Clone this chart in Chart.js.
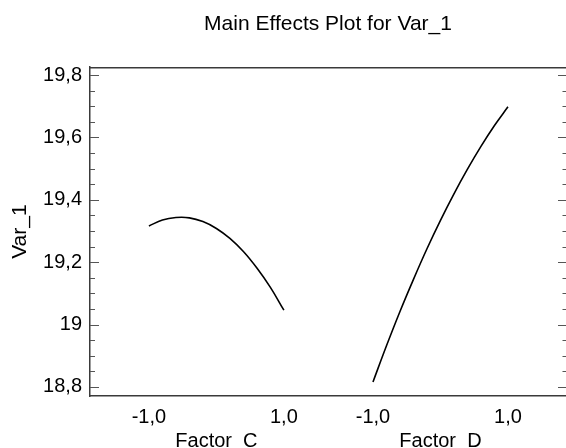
<!DOCTYPE html>
<html>
<head>
<meta charset="utf-8">
<script src="https://cdn.jsdelivr.net/npm/chart.js@4/dist/chart.umd.min.js"></script>
<style>
  html, body { margin: 0; padding: 0; background: #ffffff; }
  #wrap { width: 566px; height: 448px; }
</style>
</head>
<body>
<div id="wrap"><canvas id="c" width="566" height="448"></canvas></div>
<script>
// ---- data ----
const chartTitle = 'Main Effects Plot for Var_1';
const yTitle = 'Var_1';
const factorNames = ['Factor  C', 'Factor  D'];
const levels = [-1, -0.8, -0.6, -0.4, -0.2, 0, 0.2, 0.4, 0.6, 0.8, 1];
const factorC = [19.316, 19.335, 19.343, 19.342, 19.330, 19.308, 19.276, 19.234, 19.181, 19.119, 19.046];
const factorD = [18.816, 18.932, 19.042, 19.145, 19.243, 19.334, 19.419, 19.498, 19.571, 19.638, 19.698];
const levelTickValues = [-1, 1];
const levelTickLabels = ['-1,0', '1,0'];
const yTickValues = [18.8, 19.0, 19.2, 19.4, 19.6, 19.8];
const yTickLabels = ['18,8', '19', '19,2', '19,4', '19,6', '19,8'];
const yMinorStep = 0.05;

// ---- layout constants ----
const PANEL_OFFSET = 3.32;   // scale distance between the centre of panel C and panel D
const X_MIN = -1.873, X_MAX = 5.18;
const Y_MIN = 18.771, Y_MAX = 19.825;
const FONT = "'Liberation Sans', Arial, sans-serif";

const panels = [factorC, factorD];
const datasets = panels.map((vals, p) => ({
  label: factorNames[p],
  data: levels.map((t, i) => ({ x: t + p * PANEL_OFFSET, y: vals[i] })),
  borderColor: '#000000',
  borderWidth: 1.6,
  pointRadius: 0,
  tension: 0.4,
  fill: false
}));

// x ticks: per panel -1, centre (factor name), +1
const xTicks = [];
const xLabels = [];
factorNames.forEach((name, p) => {
  const off = p * PANEL_OFFSET;
  xTicks.push(levelTickValues[0] + off); xLabels.push(levelTickLabels[0]);
  xTicks.push(off); xLabels.push(['', name]);
  xTicks.push(levelTickValues[1] + off); xLabels.push(levelTickLabels[1]);
});

const framePlugin = {
  id: 'frame',
  afterDraw(chart) {
    const { ctx, chartArea: a, scales } = chart;
    const ys = scales.y;
    ctx.save();
    // top border
    ctx.strokeStyle = '#3a3a3a';
    ctx.lineWidth = 1.5;
    ctx.beginPath();
    ctx.moveTo(a.left, a.top + 0.5);
    ctx.lineTo(a.right, a.top + 0.5);
    ctx.stroke();
    // y tick marks, left and right, pointing inward
    ctx.strokeStyle = '#555555';
    ctx.lineWidth = 1.2;
    const n = Math.round((yTickValues[yTickValues.length - 1] - yTickValues[0]) / yMinorStep);
    for (let i = 0; i <= n; i++) {
      const v = yTickValues[0] + i * yMinorStep;
      const major = i % 4 === 0;
      const py = Math.round(ys.getPixelForValue(v)) + 0.5;
      ctx.beginPath();
      ctx.moveTo(a.left, py);
      ctx.lineTo(a.left + (major ? 9 : 5), py);
      ctx.moveTo(a.right, py);
      ctx.lineTo(a.right - (major ? 8 : 3.5), py);
      ctx.stroke();
    }
    ctx.restore();
  }
};

new Chart(document.getElementById('c'), {
  type: 'line',
  data: { datasets },
  options: {
    responsive: false,
    animation: false,
    layout: { padding: 0 },
    plugins: {
      legend: { display: false },
      tooltip: { enabled: false },
      title: {
        display: true,
        text: chartTitle,
        fullSize: false,
        color: '#000000',
        font: { family: FONT, size: 21, weight: 'normal' },
        padding: { top: 12, bottom: 30 }
      }
    },
    scales: {
      x: {
        type: 'linear',
        min: X_MIN,
        max: X_MAX,
        afterBuildTicks: s => { s.ticks = xTicks.map(v => ({ value: v })); },
        afterFit: s => { s.height = 52; },
        grid: { display: false, drawTicks: false },
        border: { display: true, color: '#3a3a3a', width: 1.5 },
        ticks: {
          autoSkip: false,
          maxRotation: 0,
          padding: 9,
          color: '#000000',
          font: { family: FONT, size: 20 },
          callback: (v, i) => xLabels[i]
        }
      },
      y: {
        type: 'linear',
        min: Y_MIN,
        max: Y_MAX,
        afterBuildTicks: s => { s.ticks = yTickValues.map(v => ({ value: v })); },
        afterFit: s => { s.width = 90; },
        grid: { display: false, drawTicks: false },
        border: { display: true, color: '#3a3a3a', width: 1.5 },
        ticks: {
          padding: 8,
          color: '#000000',
          font: { family: FONT, size: 20 },
          callback: (v, i) => yTickLabels[i]
        },
        title: {
          display: true,
          text: yTitle,
          color: '#000000',
          font: { family: FONT, size: 21 },
          padding: { top: 8, bottom: 0 }
        }
      }
    }
  },
  plugins: [framePlugin]
});
</script>
</body>
</html>
